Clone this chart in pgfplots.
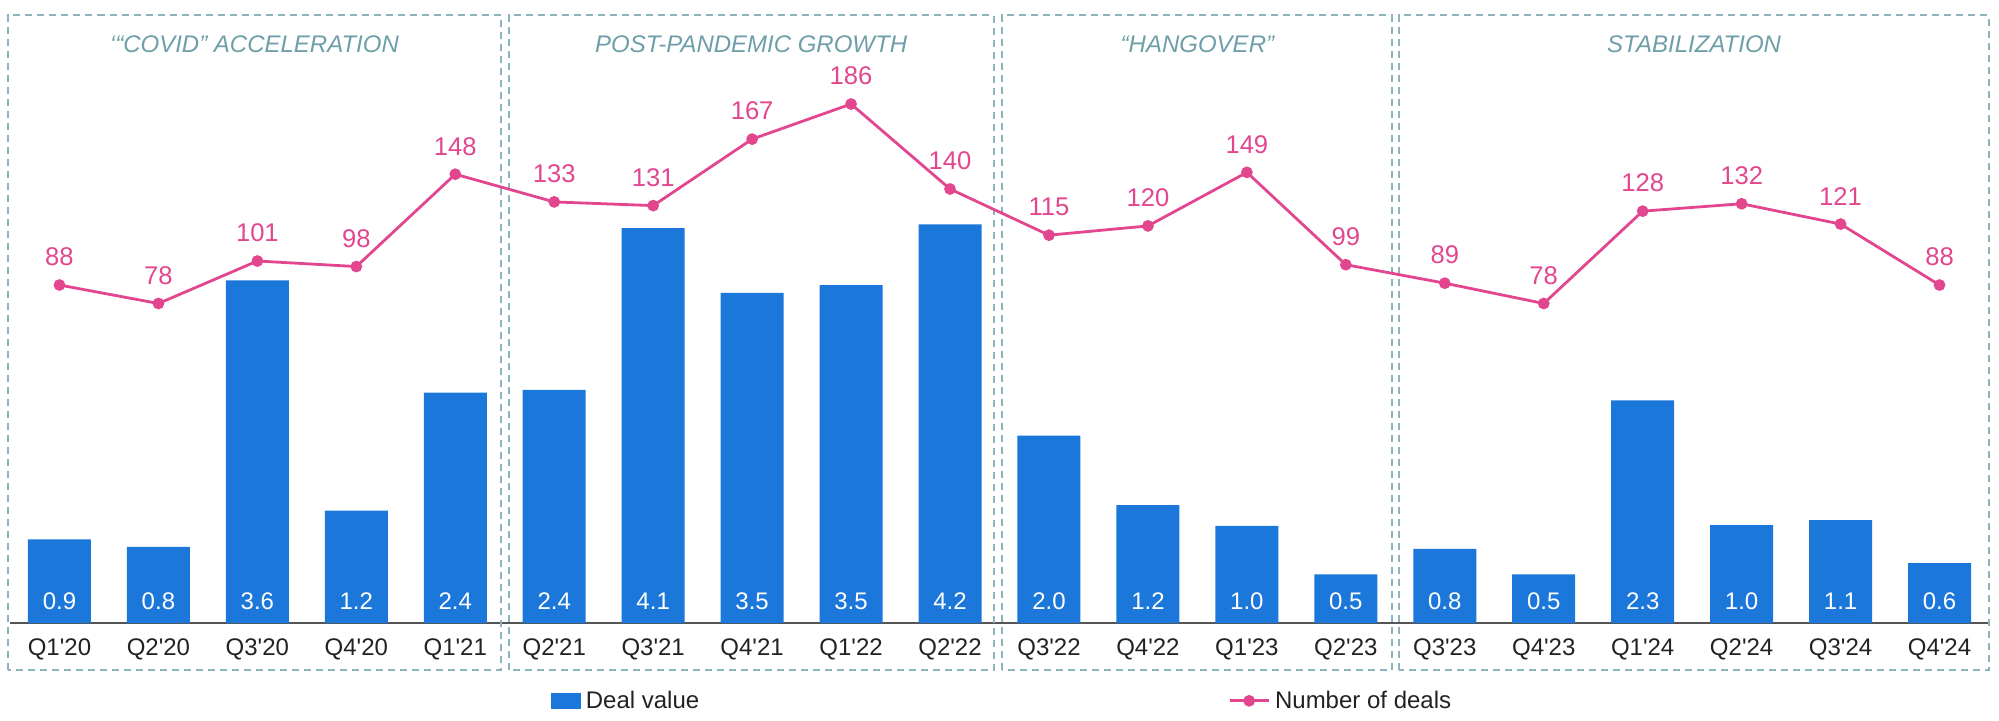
\documentclass[border=0pt]{standalone}
\usepackage{fontspec}
\setmainfont{Liberation Sans}
\usepackage{pgfplots}
\usepackage{pgfplotstable}
\pgfplotsset{compat=1.18}
\definecolor{barblue}{HTML}{1C77DA}
\definecolor{linepink}{HTML}{E2468F}
\definecolor{boxcol}{HTML}{8DB4BC}
\definecolor{titlecol}{HTML}{6E9EA8}
\definecolor{axisgray}{HTML}{555555}
\definecolor{ticktext}{HTML}{222222}
\newcommand\lf{\fontsize{12}{14}\selectfont}
\newcommand\nf{\fontsize{12.8}{15}\selectfont}

\pgfplotsset{
  barlegend/.style={legend image code/.code={\fill[barblue] (0pt,-3.75pt) rectangle (14.5pt,3.75pt);}},
  linelegend/.style={legend image code/.code={\draw[##1, mark repeat=2, mark phase=2] plot coordinates {(0pt,0pt) (9.75pt,0pt) (19.5pt,0pt)};}},
}

\pgfplotstableread{
x v zero lab
0 0.88 0 0.9
1 0.80 0 0.8
2 3.60 0 3.6
3 1.18 0 1.2
4 2.42 0 2.4
5 2.45 0 2.4
6 4.15 0 4.1
7 3.47 0 3.5
8 3.55 0 3.5
9 4.19 0 4.2
10 1.97 0 2.0
11 1.24 0 1.2
12 1.02 0 1.0
13 0.51 0 0.5
14 0.78 0 0.8
15 0.51 0 0.5
16 2.34 0 2.3
17 1.03 0 1.0
18 1.08 0 1.1
19 0.63 0 0.6
}\bardata

\pgfplotstableread{
x n
0 88
1 78
2 101
3 98
4 148
5 133
6 131
7 167
8 186
9 140
10 115
11 120
12 149
13 99
14 89
15 78
16 128
17 132
18 121
19 88
}\linedata

\tikzset{boxdash/.style={draw=boxcol, line width=1pt, dash pattern=on 3.5pt off 2.5pt}}

\begin{document}
\begin{tikzpicture}
\useasboundingbox (-5pt,-48.5pt) rectangle (994.5pt,311.5pt);
\begin{axis}[
  at={(0,0)}, anchor=south west,
  scale only axis, width=989.5pt, height=304pt,
  xmin=-0.5, xmax=19.5, ymin=0, ymax=6.39,
  clip=false,
  axis x line*=bottom, axis y line=none,
  x axis line style={draw=axisgray, line width=0.75pt},
  xtick={0,...,19},
  xticklabels={Q1\textquotesingle 20,Q2\textquotesingle 20,Q3\textquotesingle 20,Q4\textquotesingle 20,Q1\textquotesingle 21,Q2\textquotesingle 21,Q3\textquotesingle 21,Q4\textquotesingle 21,Q1\textquotesingle 22,Q2\textquotesingle 22,Q3\textquotesingle 22,Q4\textquotesingle 22,Q1\textquotesingle 23,Q2\textquotesingle 23,Q3\textquotesingle 23,Q4\textquotesingle 23,Q1\textquotesingle 24,Q2\textquotesingle 24,Q3\textquotesingle 24,Q4\textquotesingle 24},
  major tick length=0pt,
  xticklabel style={anchor=center, yshift=-13pt, font=\lf, text=ticktext},
  ytick=\empty,
]
\addplot[ybar, bar width=31.5pt, fill=barblue, draw=none] table[x=x, y=v] {\bardata};
\addplot[only marks, mark=none, nodes near coords, point meta=explicit symbolic,
  every node near coord/.append style={anchor=center, yshift=11pt, text=white, font=\lf}]
  table[x=x, y=zero, meta=lab] {\bardata};
% group boxes
\draw[boxdash] (axis cs:-0.52,-0.494) rectangle (axis cs:4.462,6.385);
\draw[boxdash] (axis cs:4.543,-0.494) rectangle (axis cs:9.444,6.385);
\draw[boxdash] (axis cs:9.525,-0.494) rectangle (axis cs:13.467,6.385);
\draw[boxdash] (axis cs:13.537,-0.494) rectangle (axis cs:19.5,6.385);
% group titles
\node[font=\lf\itshape, text=titlecol] at (axis cs:1.97,6.08) {‘“COVID” ACCELERATION};
\node[font=\lf\itshape, text=titlecol] at (axis cs:6.99,6.08) {POST-PANDEMIC GROWTH};
\node[font=\lf\itshape, text=titlecol] at (axis cs:11.5,6.08) {“HANGOVER”};
\node[font=\lf\itshape, text=titlecol] at (axis cs:16.52,6.08) {STABILIZATION};
\end{axis}
\begin{axis}[
  at={(0,0)}, anchor=south west,
  scale only axis, width=989.5pt, height=304pt,
  xmin=-0.5, xmax=19.5, ymin=-95, ymax=234.2,
  clip=false, hide axis,
  legend columns=2,
  legend style={at={(axis description cs:0.2734,-0.128)}, anchor=west,
    draw=none, fill=none, inner sep=0pt, outer sep=0pt, font=\lf,
    nodes={inner sep=2.5pt, text=ticktext},
    /tikz/every even column/.append style={column sep=262pt}},
  legend cell align=left,
]
\addlegendimage{barlegend}
\addlegendentry{Deal value}
\addplot[linepink, line width=1.4pt, mark=*, mark size=2.2pt,
  mark options={fill=linepink, draw=linepink}, linelegend]
  table[x=x, y=n] {\linedata};
\addlegendentry{Number of deals}
\addplot[only marks, mark=none, nodes near coords, point meta=explicit symbolic,
  every node near coord/.append style={anchor=center, yshift=14pt, text=linepink, font=\nf}]
  table[x=x, y=n, meta=n] {\linedata};
\end{axis}
\end{tikzpicture}
\end{document}
